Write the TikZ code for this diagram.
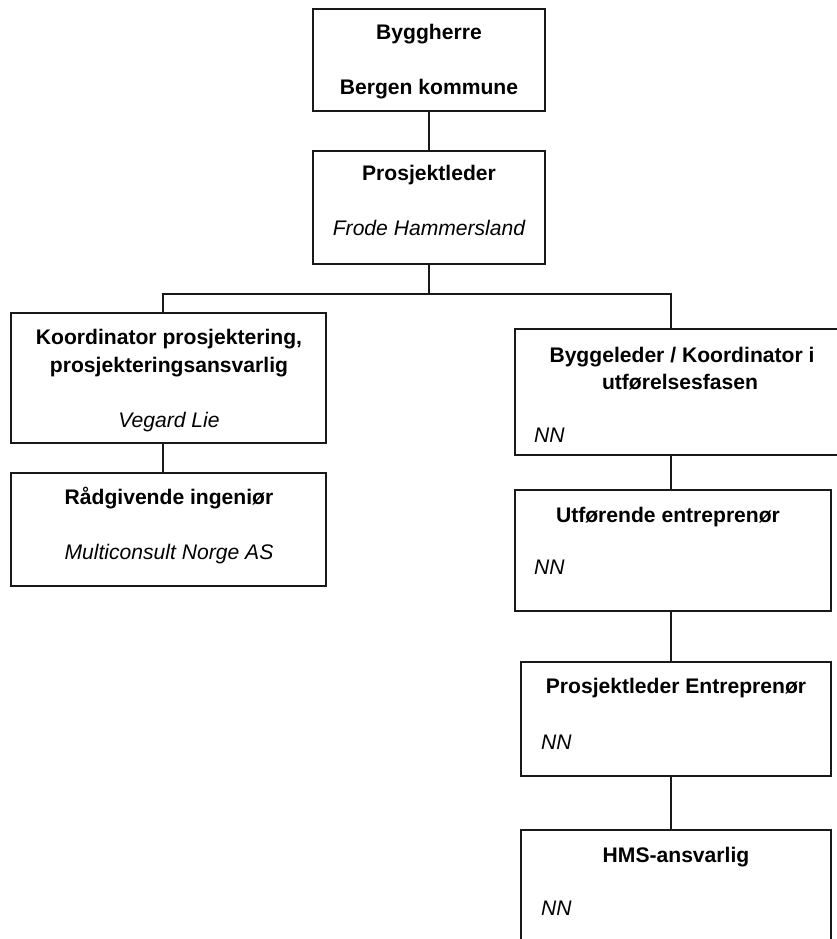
\documentclass[tikz,border=0pt]{standalone}
\usepackage{fontspec}
\setmainfont{Liberation Sans}
\begin{document}
\begin{tikzpicture}[x=1pt,y=-1pt,
  box/.style={draw=black!90,line width=1.8pt,rectangle,inner sep=0pt},
  ln/.style={draw=black!90,line width=1.8pt},
  bt/.style={inner sep=0pt,anchor=base,font=\fontsize{21.1}{24}\selectfont\bfseries},
  it/.style={inner sep=0pt,anchor=base,font=\fontsize{21.1}{24}\selectfont\itshape},
  itl/.style={inner sep=0pt,anchor=base west,font=\fontsize{21.1}{24}\selectfont\itshape}]
\useasboundingbox (0,0) rectangle (837,939);
\clip (0,0) rectangle (837,939);
% boxes
\node[box,minimum width=232pt,minimum height=102pt] (top) at (429,60) {};
\node[box,minimum width=232pt,minimum height=113pt] (pl) at (429,207.5) {};
\node[box,minimum width=315pt,minimum height=130pt] (kp) at (168.5,378) {};
\node[box,minimum width=315pt,minimum height=113pt] (rg) at (168.5,529.5) {};
\node[box,minimum width=335pt,minimum height=126pt] (bl) at (682.5,392) {};
\node[box,minimum width=316pt,minimum height=121pt] (ue) at (673,550.5) {};
\node[box,minimum width=310pt,minimum height=114pt] (pe) at (676,719) {};
\node[box,minimum width=310pt,minimum height=130pt] (hms) at (676,895) {};
% junctions
\coordinate (jc) at (429,294);
\coordinate (jl) at (163,294);
\coordinate (jr) at (671,294);
% connectors
\draw[ln] (top.south) -- (pl.north);
\draw[ln] (pl.south) -- (jc);
\draw[ln] (jl |- kp.north) -- (jl) -- (jr) -- (jr |- bl.north);
\draw[ln] (jl |- kp.south) -- (jl |- rg.north);
\draw[ln] (jr |- bl.south) -- (jr |- ue.north);
\draw[ln] (jr |- ue.south) -- (jr |- pe.north);
\draw[ln] (jr |- pe.south) -- (jr |- hms.north);
% texts
\node[bt] (t1) at (429,40) {Byggherre};
\node[bt] (t2) at (429,95) {Bergen kommune};
\node[bt] (t3) at (429,180) {Prosjektleder};
\node[it] (t4) at (429,235) {Frode Hammersland};
\node[bt] (t5) at (169,344) {Koordinator prosjektering,};
\node[bt] (t6) at (169,372) {prosjekteringsansvarlig};
\node[it] (t7) at (169,427) {Vegard Lie};
\node[bt] (t8) at (169,504) {Rådgivende ingeniør};
\node[it] (t9) at (169,559) {Multiconsult Norge AS};
\node[bt] (t10) at (682,362) {Byggeleder / Koordinator i};
\node[bt] (t11) at (680,389) {utførelsesfasen};
\node[itl] (t12) at (534,442) {NN};
\node[bt] (t13) at (668,522) {Utførende entreprenør};
\node[itl] (t14) at (534,574) {NN};
\node[bt] (t15) at (676,693) {Prosjektleder Entreprenør};
\node[itl] (t16) at (541,749) {NN};
\node[bt] (t17) at (676,862) {HMS-ansvarlig};
\node[itl] (t18) at (541,915) {NN};
\end{tikzpicture}
\end{document}
